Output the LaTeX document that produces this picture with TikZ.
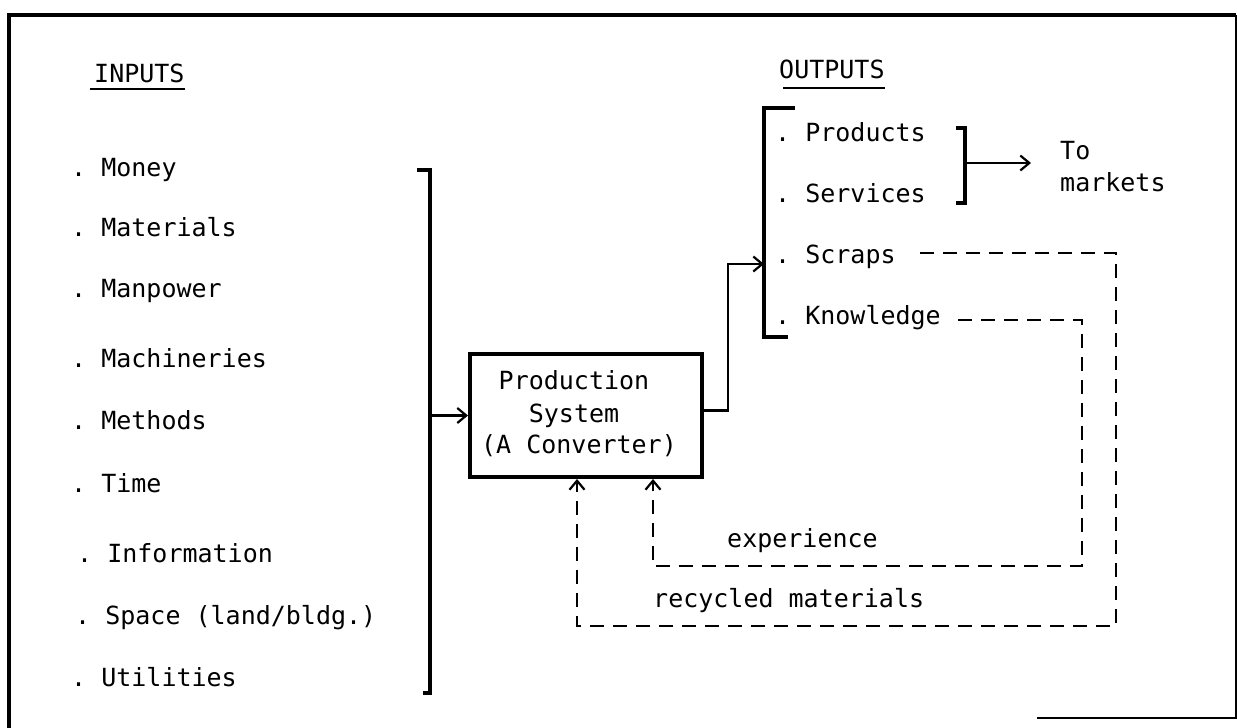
\documentclass[tikz,border=0pt]{standalone}
\usepackage{fontspec}
\setmonofont{DejaVu Sans Mono}
\usetikzlibrary{arrows.meta}
\begin{document}
\begin{tikzpicture}[x=1pt,y=-1pt,
  txt/.style={font=\ttfamily\fontsize{25}{30}\selectfont, inner sep=0pt, anchor=base west},
  ctxt/.style={font=\ttfamily\fontsize{25}{30}\selectfont, inner sep=0pt, anchor=base},
  brk/.style={line width=3.4pt},
  conn/.style={line width=2.4pt},
  arr/.style={-{Straight Barb[length=9pt,width=15pt,line width=2.2pt]}},
  fdash/.style={line width=2.3pt, dash pattern=on 14pt off 9pt},
  uline/.style={line width=2pt}]
\useasboundingbox (0,0) rectangle (1237,728);

% frame
\draw[line width=3.5pt] (9,728) -- (9,15) -- (1236,15);
\draw[line width=1.8pt] (1236,15) -- (1236,718) -- (1037,718);

% headings
\node[txt] (inputs) at (94,82) {INPUTS};
\draw[uline] (90,89) -- (185,89);
\node[txt] (outputs) at (779,78) {OUTPUTS};
\draw[uline] (783,88) -- (885,88);

% input items
\node[txt] (money) at (71,176) {. Money};
\node[txt] (materials) at (71,236) {. Materials};
\node[txt] (manpower) at (71,297) {. Manpower};
\node[txt] (machineries) at (71,367) {. Machineries};
\node[txt] (methods) at (71,429) {. Methods};
\node[txt] (time) at (71,492) {. Time};
\node[txt] (information) at (77,562) {. Information};
\node[txt] (space) at (75,624) {. Space (land/bldg.)};
\node[txt] (utilities) at (71,686) {. Utilities};

% input bracket
\coordinate (ibt) at (417,170);
\coordinate (ibb) at (423,693);
\draw[brk] (ibt) -- (430,170) -- (430,693) -- (ibb);
\coordinate (inmid) at (430,415.5);

% production box
\node[draw, line width=4pt, minimum width=232pt, minimum height=123pt, inner sep=0pt] (box) at (586,415.5) {};
\node[ctxt] (bt1) at (574,389) {Production};
\node[ctxt] (bt2) at (574,422) {System};
\node[ctxt] (bt3) at (579,453) {(A Converter)};

\draw[line width=3.2pt, arr] (inmid) -- (box.west);

% output bracket
\draw[brk] (795,108) -- (764,108) -- (764,337) -- (788,337);
\coordinate (outturn) at (728,264);
\coordinate (outin) at (764,264);
\draw[conn, arr] ([yshift=5pt]box.east) -| (outturn) -- (outin);

% output items
\node[txt] (products) at (775,141) {. Products};
\node[txt] (services) at (775,202) {. Services};
\node[txt] (scraps) at (775,263) {. Scraps};
\node[txt] (knowledge) at (775,324) {. Knowledge};

% markets bracket
\draw[brk] (956,128) -- (965,128) -- (965,203) -- (956,203);
\coordinate (pm) at (965,163);
\coordinate (pmend) at (1031,163);
\draw[conn, arr] (pm) -- (pmend);
\node[txt] (to) at (1060,159) {To};
\node[txt] (markets) at (1060,191) {markets};

% feedback loops
\coordinate (sc1) at (920,253);
\coordinate (sc2) at (1116,626);
\draw[fdash, arr] (sc1) -| (sc2) -| ([xshift=-9pt]box.south);
\coordinate (kn1) at (958,320);
\coordinate (kn2) at (1082,566);
\draw[fdash, arr] (kn1) -| (kn2) -| ([xshift=67pt]box.south);

\node[txt] (experience) at (727,547) {experience};
\node[txt] (recycled) at (653,607) {recycled materials};
\end{tikzpicture}
\end{document}
